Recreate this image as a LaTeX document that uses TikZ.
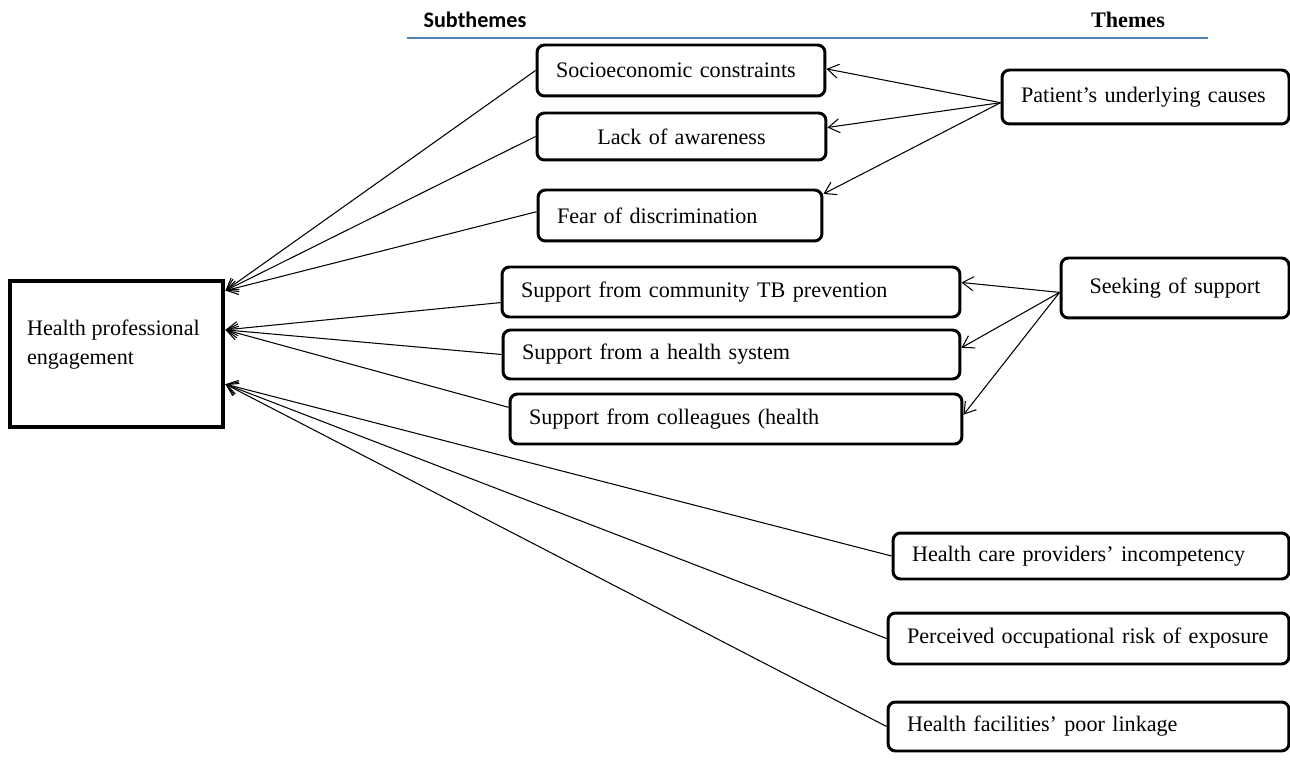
\documentclass[tikz,border=0pt]{standalone}
\usepackage{fontspec}
\setmainfont{Liberation Serif}
\newfontfamily\headfont{Carlito}
\usetikzlibrary{arrows.meta,calc}
\definecolor{rulecol}{HTML}{4F81BD}

\begin{document}
\begin{tikzpicture}[x=0.02cm,y=-0.02cm,
    every node/.style={font=\fontsize{12.6}{17}\selectfont},
    sub/.style={draw,rounded corners=0.15cm,line width=1.7pt,inner xsep=0.38cm,align=left},
    arr/.style={-{Straight Barb[length=2.2mm,width=2.8mm]},line width=0.6pt}]
  \useasboundingbox (0,0) rectangle (1290,766);
  % headings
  \node (subth) at (475,20) {\headfont\bfseries Subthemes};
  \node (th) at (1128,20) {\bfseries Themes};
  \draw[rulecol,line width=1pt] (407,38) -- (1208,38);
  % main box
  \node[draw,line width=2.8pt,inner xsep=0.34cm,minimum height=2.92cm,
        text height=0.35cm,text depth=1.11cm] (hpe) at (116.5,354)
        {\parbox[t]{3.58cm}{Health professional\\engagement}};
  % subthemes
  \node[sub,text width=5cm,minimum height=1.02cm] (soc) at (681,70.5) {Socioeconomic constraints};
  \node[sub,text width=5.02cm,align=center,minimum height=0.94cm] (lack) at (681.5,136.5) {Lack of awareness};
  \node[sub,text width=4.92cm,minimum height=1.02cm] (fear) at (680,215.5) {Fear of discrimination};
  \node[sub,text width=8.4cm,minimum height=1cm] (comm) at (731,292) {Support from community TB prevention};
  \node[sub,text width=8.38cm,minimum height=0.98cm] (hsys) at (731.5,354.5) {Support from a health system};
  \node[sub,text width=8.28cm,minimum height=1cm] (coll) at (736,419) {Support from colleagues (health};
  % themes
  \node[sub,text width=4.98cm,minimum height=1.08cm] (pat) at (1145.5,97) {Patient's underlying causes};
  \node[sub,text width=3.8cm,align=center,minimum height=1.2cm] (seek) at (1175,288) {Seeking of support};
  \node[sub,text width=7.16cm,minimum height=0.92cm] (inc) at (1091,556) {Health care providers' incompetency};
  \node[sub,text width=7.26cm,minimum height=1.02cm] (risk) at (1088.5,638.5) {Perceived occupational risk of exposure};
  \node[sub,text width=7.26cm,minimum height=0.98cm] (link) at (1088.5,726.5) {Health facilities' poor linkage};
  % themes to subthemes
  \draw[arr] ($(pat.north west)!0.6!(pat.south west)$) -- ($(soc.north east)!0.47!(soc.south east)$);
  \draw[arr] ($(pat.north west)!0.6!(pat.south west)$) -- ($(lack.north east)!0.32!(lack.south east)$);
  \draw[arr] ($(pat.north west)!0.6!(pat.south west)$) -- ($(fear.north east)!0.1!(fear.south east)$);
  \draw[arr] ($(seek.north west)!0.57!(seek.south west)$) -- ($(comm.north east)!0.32!(comm.south east)$);
  \draw[arr] ($(seek.north west)!0.57!(seek.south west)$) -- ($(hsys.north east)!0.37!(hsys.south east)$);
  \draw[arr] ($(seek.north west)!0.57!(seek.south west)$) -- ($(coll.north east)!0.42!(coll.south east)$);
  % subthemes to engagement
  \draw[arr] (soc.west) -- ($(hpe.north east)!0.08!(hpe.south east)$);
  \draw[arr] (lack.west) -- ($(hpe.north east)!0.08!(hpe.south east)$);
  \draw[arr] ($(fear.north west)!0.43!(fear.south west)$) -- ($(hpe.north east)!0.08!(hpe.south east)$);
  \draw[arr] ($(comm.north west)!0.7!(comm.south west)$) -- ($(hpe.north east)!0.34!(hpe.south east)$);
  \draw[arr] (hsys.west) -- ($(hpe.north east)!0.34!(hpe.south east)$);
  \draw[arr] ($(coll.north west)!0.28!(coll.south west)$) -- ($(hpe.north east)!0.34!(hpe.south east)$);
  \draw[arr] (inc.west) -- ($(hpe.north east)!0.7!(hpe.south east)$);
  \draw[arr] (risk.west) -- ($(hpe.north east)!0.7!(hpe.south east)$);
  \draw[arr] (link.west) -- ($(hpe.north east)!0.7!(hpe.south east)$);
\end{tikzpicture}
\end{document}
